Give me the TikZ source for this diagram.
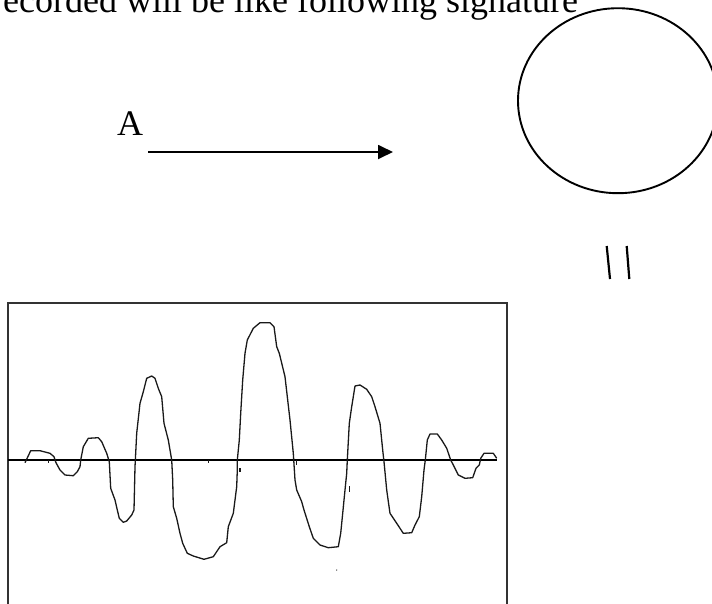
\documentclass[tikz,border=0pt]{standalone}
\usepackage{fontspec}
\setmainfont{Liberation Serif}
\usetikzlibrary{arrows.meta}

\begin{document}
\begin{tikzpicture}[x=1pt,y=-1pt,font=\fontsize{36}{40}\selectfont,
  bigtext/.style={inner sep=0pt,anchor=base west},
  trace/.style={black!90,line width=1.3pt,line join=round},
  frame/.style={black!80,line width=1.2pt}]
\useasboundingbox (0,0) rectangle (712,603);
\node[bigtext] (caption) at (-9,12.5) {recorded will be like following signature};
\node[inner sep=0pt,anchor=base] (labelA) at (130,135) {A};
\coordinate (arrowstart) at (148,152);
\coordinate (arrowend) at (393,152);
\draw[line width=1.8pt,-{Triangle[length=15pt,width=14pt]}] (arrowstart) -- (arrowend);
\draw[line width=1.9pt] (618,100.7) ellipse [x radius=100, y radius=92.5];
\draw[line width=2.2pt] (606.7,246) -- (610,279);
\draw[line width=2.2pt] (626.7,246) -- (629.3,279);
\draw[frame] (8,610) -- (8,303) -- (507,303) -- (507,610);
\draw[black,line width=1.2pt] (8,460) -- (497,460);
\draw[trace] (25.0,462.7) -- (30.7,450.7) -- (40.0,450.7) -- (50.0,453.3) -- (54.0,456.7)
  -- (56.0,462.7) -- (60.0,470.0) -- (65.0,475.0) -- (73.3,475.7) -- (77.3,471.7)
  -- (80.0,466.7) -- (80.7,460.0) -- (83.3,446.7) -- (88.3,438.3) -- (98.3,437.7)
  -- (101.7,441.7) -- (106.7,453.3) -- (109.3,461.7) -- (110.7,488.3) -- (115.0,500.0)
  -- (117.3,510.0) -- (119.3,518.3) -- (123.3,522.3) -- (126.7,521.0) -- (131.7,515.0)
  -- (134.0,510.0) -- (135.0,466.7) -- (136.7,433.3) -- (140.0,403.3) -- (143.3,391.7)
  -- (146.7,378.3) -- (151.7,376.0) -- (155.0,378.3) -- (158.3,388.3) -- (161.7,396.7)
  -- (164.0,423.3) -- (168.3,440.0) -- (171.7,460.0) -- (172.7,480.0) -- (173.3,506.7)
  -- (176.7,518.3) -- (180.0,533.3) -- (182.7,543.3) -- (187.3,553.3) -- (193.3,556.0)
  -- (204.0,559.3) -- (213.3,556.7) -- (220.0,546.7) -- (226.7,542.7) -- (228.3,526.7)
  -- (233.3,513.3) -- (236.7,486.7) -- (237.3,470.0) -- (237.3,460.0) -- (239.3,440.0)
  -- (240.7,413.3) -- (242.7,380.0) -- (245.0,353.3) -- (247.3,340.0) -- (253.3,328.3)
  -- (260.0,322.7) -- (270.0,322.7) -- (274.0,326.7) -- (276.7,346.7) -- (279.3,353.3)
  -- (285.0,376.7) -- (287.3,396.7) -- (290.0,420.0) -- (293.3,453.3) -- (295.0,480.0)
  -- (296.7,490.0) -- (301.7,501.7) -- (304.0,510.0) -- (309.3,526.7) -- (313.3,538.3)
  -- (320.0,545.0) -- (328.3,547.7) -- (338.3,546.7) -- (340.7,533.3) -- (342.7,513.3)
  -- (345.0,490.0) -- (346.7,473.3) -- (347.3,460.0) -- (349.3,423.3) -- (351.7,406.7)
  -- (355.0,386.0) -- (360.0,385.0) -- (366.7,389.3) -- (371.7,396.7) -- (375.0,406.7)
  -- (380.0,423.3) -- (382.7,450.0) -- (384.0,461.7) -- (386.7,490.0) -- (390.0,513.3)
  -- (396.7,523.3) -- (403.3,533.3) -- (411.7,532.7) -- (415.0,525.0) -- (419.3,516.7)
  -- (421.7,496.7) -- (424.0,470.0) -- (425.3,460.0) -- (427.3,440.0) -- (430.0,434.0)
  -- (437.3,434.0) -- (441.7,440.0) -- (446.7,448.3) -- (450.7,460.0) -- (453.3,465.0)
  -- (458.3,475.0) -- (465.0,478.3) -- (472.7,477.7) -- (476.0,468.3) -- (479.3,465.0)
  -- (480.7,458.3) -- (484.0,453.3) -- (493.3,453.3) -- (496.7,458.3);
% small marks on the trace
\draw[trace] (48.3,460) -- (48.3,463);
\draw[trace] (208.3,460) -- (208.3,463);
\draw[trace] (240,468) -- (240,472);
\draw[trace] (349.3,486) -- (349.3,492);
\draw[trace] (296.7,460) -- (296.7,465);
\fill[black!80] (336.7,570) circle (0.7);
\end{tikzpicture}
\end{document}
